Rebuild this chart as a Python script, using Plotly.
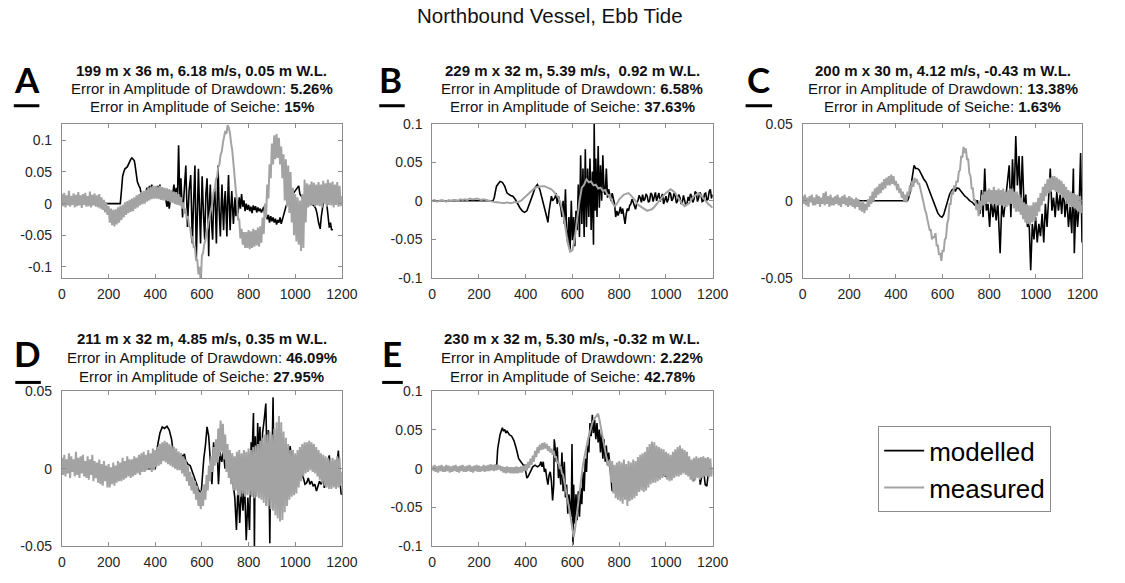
import plotly.graph_objects as go

W, H = 1125, 583

# ---------------------------------------------------------------- data (mm)
T5 = list(range(0, 1201, 5))
T10 = list(range(0, 1201, 10))

meas_a_mm = [
    15, -4, 17, -6, 13, -3, 20, -5, 12, -2,
    16, -6, 14, -4, 18, -3, 13, -7, 15, -2,
    17, -5, 12, -4, 19, -6, 14, -3, 16, -5,
    13, -6, 15, -8, 10, -10, 6, -14, 2, -18,
    -4, -30, -8, -34, -10, -36, -9, -33, -6, -30,
    -4, -26, -2, -22, 2, -18, 4, -15, 6, -13,
    8, -12, 10, -8, 13, -6, 15, -3, 18, -1,
    20, 0, 22, 3, 25, 5, 27, 7, 28, 8,
    28, 8, 27, 7, 28, 6, 26, 5, 25, 5,
    24, 4, 23, 2, 21, 1, 19, -1, 18, -2,
    15, -3, 10, -8, 2, -16, -8, -24, -20, -36,
    -38, -55, -52, -70, -68, -90, -88, -112, -100, -125,
    -82, -78, -64, -58, -45, -38, -26, -18, -6, 2,
    18, 22, 38, 42, 58, 62, 77, 82, 96, 104,
    115, 110, 124, 120, 112, 96, 84, 64, 48, 22,
    5, -25, -25, -55, -40, -65, -45, -70, -45, -70,
    -42, -72, -44, -70, -40, -68, -42, -66, -38, -68,
    -36, -62, -22, -48, 0, -22, 30, 8, 62, 40,
    95, 62, 108, 70, 110, 72, 104, 62, 90, 40,
    78, 5, 70, -5, 60, -15, 50, -30, 25, -50,
    15, -60, 10, -65, 5, -75, 15, -70, 38, -30,
    32, -6, 30, -4, 35, -2, 33, -5, 30, -3,
    34, -4, 30, -6, 36, 0, 32, -5, 38, -2,
    33, -3, 35, -6, 30, -2, 34, -5, 28, -4,
    12,
]

model_a_mm = [
    (0, 0), (250, 0), (255, 20), (260, 43), (265, 50), (270, 55), (280, 58), (285, 63),
    (290, 66), (295, 70), (300, 72), (305, 70), (310, 68), (313, 62), (316, 53), (320, 42),
    (323, 35), (330, 28), (335, 25), (341, 12), (345, 8), (350, 12), (355, 5), (360, 20),
    (365, 25), (370, 18), (375, 28), (380, 22), (385, 30), (390, 24), (395, 18), (400, 26),
    (405, 20), (410, 28), (415, 22), (420, 30), (425, 18), (430, 25), (435, 15), (440, 20),
    (445, 5), (450, -5), (455, 5), (460, -8), (465, 8), (470, 20), (475, 15), (480, 30),
    (485, 10), (490, 25), (495, 5), (500, 92), (505, 10), (510, 40), (517, -22), (524, 30),
    (531, 60), (538, -37), (545, 20), (552, 45), (559, -63), (565, 10), (570, 60), (576, -88),
    (580, 0), (585, 55), (594, -63), (598, 10), (601, 43), (607, -20), (612, -57), (617, 15),
    (622, 40), (626, -10), (629, -83), (633, 5), (636, 30), (641, -30), (646, -57), (650, 0),
    (655, 25), (659, -20), (662, -63), (666, 10), (669, 60), (674, -10), (679, -52), (683, 0),
    (686, 30), (690, -15), (693, -42), (697, 5), (700, 20), (704, -20), (707, -52), (710, 0),
    (714, 45), (718, -10), (721, -42), (725, 0), (728, 20), (732, -10), (735, -32), (740, 0),
    (742, 10), (746, -20), (750, 5), (755, -15), (760, 10), (765, -8), (770, 15), (775, -5),
    (780, 5), (785, -12), (790, 0), (795, -10), (800, -2), (805, -12), (810, -5), (815, -15),
    (820, -3), (825, -10), (830, -4), (835, -14), (840, -6), (845, -12), (850, -8), (855, -14),
    (860, -10), (865, -5), (870, -20), (875, -15), (880, -25), (885, -18), (890, -30), (895, -20),
    (900, -28), (905, -22), (910, -30), (915, -24), (920, -33), (925, -26), (930, -30), (935, -22),
    (940, -32), (945, -25), (950, -15), (960, -5), (970, 5), (980, 10), (990, 15), (1000, 20),
    (1010, 25), (1015, 28), (1020, 15), (1030, 10), (1040, 8), (1050, 5), (1060, 2), (1070, 0),
    (1080, -3), (1088, -8), (1093, -15), (1100, -30), (1107, -40), (1112, -20), (1118, 0),
    (1123, 8), (1128, 12), (1133, 5), (1138, -10), (1142, -25), (1146, -38), (1151, -30),
    (1156, -42), (1160, -40),
]

meas_b_mm = [
    0, 1, -1, 0, 1, 0, -1, 1, 0, 1,
    1, 0, 2, 1, 2, 1, 3, 2, 2, 3,
    2, 1, 2, 1, 0, -1, -1, -2, -2, -3,
    -3, -3, -2, -3, -3, -2, -2, -1, 0, 3,
    6, 9, 12, 14, 17, 18, 19, 19, 19, 18,
    17, 15, 12, 8, 4, -4, -17, -35, -55, -66,
    -64, -48, -22, 0, 17, 21, 28, 24, 25, 20,
    21, 16, 17, 13, 14, 8, 7, -2, -7, -4,
    2, 5, 8, 9, 10, 7, 4, 0, -5, -7,
    -9, -11, -13, -12, -11, -8, -4, 0, 4, 7,
    10, 13, 15, 13, 10, 5, 0, -4, -7, -5,
    -3, 2, 6, 8, 10, 7, 4, 0, -4, -7,
    -9,
]

model_b_mm = [
    (0, 0), (260, 0), (265, 4), (275, 19), (290, 25), (300, 24), (310, 19), (320, 10),
    (335, 7), (345, 6), (355, 2), (365, -4), (375, -9), (385, -13), (395, -15), (405, -13),
    (410, -9), (420, -2), (430, 8), (440, 17), (450, 21), (460, 15), (470, 4), (480, -9),
    (490, -21), (495, -28), (500, -13), (510, 6), (515, 0), (525, 4), (530, 10), (535, -4),
    (540, 6), (550, -9), (555, -21), (560, 0), (565, -30), (570, 15), (575, -38), (580, -55),
    (585, -21), (590, -63), (595, 0), (600, -51), (605, -21), (610, -59), (615, -13), (620, -38),
    (625, 21), (630, -47), (635, 59), (640, -30), (645, 42), (650, -47), (655, 67), (660, -34),
    (665, 42), (670, -21), (675, 55), (680, -38), (685, 38), (690, -57), (693, 100), (697, -13),
    (700, 55), (705, -21), (710, 71), (715, -9), (720, 46), (725, 0), (730, 59), (735, 12),
    (740, 8), (745, 42), (750, 4), (755, 15), (760, 6), (765, 0), (770, 10), (775, 4),
    (780, -4), (785, -21), (790, -13), (795, -19), (800, -15), (805, -8), (810, -17), (815, -10),
    (820, -21), (825, -30), (830, -17), (835, -10), (840, -13), (845, -6), (850, -4), (855, 2),
    (860, -2), (865, -8), (870, -11), (875, -3), (880, 0), (885, 7), (890, 4), (895, -2),
    (900, 8), (905, 0), (910, 2), (915, 9), (920, 6), (925, -2), (930, 0), (935, 10),
    (940, 8), (945, -1), (950, 4), (955, 11), (960, 0), (965, 5), (970, 10), (975, -1),
    (980, 4), (985, 9), (990, -4), (995, 3), (1000, 6), (1005, -2), (1010, 2), (1015, 11),
    (1020, 9), (1025, 0), (1030, 3), (1035, 10), (1040, 6), (1045, -3), (1050, 0), (1055, 8),
    (1060, 4), (1065, -4), (1070, -2), (1075, 7), (1080, 2), (1085, -6), (1090, -4), (1095, 5),
    (1100, 0), (1105, 9), (1110, 6), (1115, -2), (1120, 2), (1125, 12), (1130, 10), (1135, -1),
    (1140, 4), (1145, 11), (1150, 8), (1155, -1), (1160, 0), (1165, 9), (1170, 10), (1175, 1),
    (1180, 2), (1185, 12), (1190, 15), (1195, 3), (1200, 8),
]

meas_c_mm = [
    3, -2, 4, -3, 2, -4, 3, -1, 4, -3,
    2, -3, 4, -2, 3, -4, 2, -2, 5, -3,
    6, -2, 3, -4, 4, -3, 2, -3, 3, -2,
    4, -3, 2, -4, 3, -2, 4, -3, 2, -4,
    3, -3, 2, -4, 1, -5, 2, -4, 1, -6,
    -1, -7, 0, -8, -2, -6, 1, -4, 3, -2,
    6, 0, 8, 2, 9, 4, 11, 5, 12, 7,
    14, 8, 15, 10, 16, 10, 17, 11, 16, 10,
    13, 7, 11, 5, 8, 2, 6, 0, 4, -1,
    6, 3, 10, 6, 13, 9, 15, 12, 14, 11,
    11, 8, 5, 2, -2, -6, -8, -12, -15, -19,
    -19, -25, -23, -24, -21, -29, -29, -35, -34, -39,
    -32, -33, -25, -24, -15, -12, -2, -2, 6, 4,
    10, 8, 13, 12, 19, 20, 29, 28, 35, 31,
    34, 27, 27, 18, 16, 8, 8, 0, 1, -6,
    -2, -10, 0, -6, 4, -3, 6, -2, 7, -1,
    8, -2, 7, -3, 9, -2, 7, -3, 8, -3,
    7, -3, 8, -4, 6, -4, 7, -3, 8, -2,
    8, -5, 6, -7, 6, -7, 4, -9, 2, -12,
    -1, -14, -2, -15, -3, -16, -3, -14, -1, -13,
    -1, -10, 2, -7, 5, -3, 9, 0, 11, 3,
    14, 5, 15, 6, 16, 7, 16, 6, 15, 5,
    14, 4, 13, 2, 11, 1, 9, -2, 7, -4,
    6, -4, 5, -5, 4, -6, 4, -7, 3, -8,
    -3,
]

model_c_mm = [
    (0, 0), (450, 0), (455, 2), (460, 5), (465, 10), (470, 15), (475, 19), (478, 23),
    (485, 21), (492, 21), (500, 20), (505, 18), (510, 17), (520, 14), (530, 12), (540, 8),
    (550, 4), (560, 0), (570, -4), (580, -8), (590, -10), (598, -10.6), (605, -9), (610, -6),
    (620, -2), (630, 4), (640, 7), (650, 8), (655, 6), (661, 8.3), (670, 8), (680, 6),
    (690, 4), (696, 3), (705, 2), (717, 0), (728, -1), (739, -3), (745, 0), (750, 0),
    (760, -8.5), (767, 7), (774, -10.6), (781, 21), (788, -6.4), (795, -2), (802, -17), (809, 2),
    (816, -10.6), (823, -2), (830, -12.7), (837, 0), (847, -34), (854, -2), (862, -10.6), (872, 4),
    (879, 10), (886, 23), (893, -10.6), (900, 27), (907, 0), (914, 42), (921, 10), (928, 29),
    (935, -4), (942, 29), (950, -6.4), (957, 4), (964, -17), (971, -12.7), (978, -45), (985, -15),
    (992, -25), (999, -10.6), (1006, -27), (1013, -15), (1020, -23), (1027, -8.5), (1034, -27),
    (1041, -2), (1048, -17), (1055, 2), (1062, 21), (1069, -6.4), (1076, 2), (1083, -10.6),
    (1090, 6), (1097, -6.4), (1104, 4), (1111, -8.5), (1118, 10), (1125, -10.6), (1133, 2),
    (1140, -17), (1147, -4), (1154, -21), (1161, 21), (1165, -34), (1172, 0), (1179, -17),
    (1186, -2), (1192, 31), (1198, -27), (1200, -10),
]

meas_d_mm = [
    7, -4, 9, -5, 6, -3, 10, -6, 8, -2,
    6, -5, 11, -4, 7, -6, 8, -3, 9, -5,
    5, -6, 8, -7, 6, -4, 9, -8, 5, -6,
    4, -9, 6, -10, 3, -11, 5, -8, 2, -12,
    3, -12, 1, -10, 4, -11, 2, -9, 5, -8,
    4, -8, 7, -7, 5, -6, 8, -5, 6, -6,
    6, -5, 8, -4, 7, -3, 9, -4, 10, -2,
    11, -2, 9, -1, 12, 0, 10, -2, 13, -1,
    12, 1, 14, 2, 16, 3, 17, 5, 18, 4,
    17, 3, 16, 2, 15, 1, 14, 0, 13, -1,
    11, -1, 10, -3, 8, -5, 6, -8, 2, -11,
    -2, -14, -5, -16, -8, -20, -11, -24, -15, -26,
    -14, -24, -10, -20, -4, -14, 2, -8, 8, -2,
    14, 2, 19, 4, 26, 8, 31, 11, 29, 6,
    22, -2, 16, -6, 12, -10, 10, -14, 8, -14,
    11, -17, 12, -18, 10, -16, 12, -18, 11, -17,
    13, -17, 12, -18, 14, -19, 15, -18, 16, -19,
    18, -20, 20, -22, 22, -24, 22, -24, 24, -26,
    22, -27, 26, -30, 30, -32, 34, -34, 30, -33,
    24, -28, 20, -24, 16, -20, 12, -18, 12, -17,
    10, -16, 12, -12, 14, -8, 16, -5, 17, -3,
    17, -2, 18, -1, 17, -2, 16, -3, 14, -5,
    12, -7, 10, -9, 9, -11, 8, -12, 7, -13,
    6, -13, 7, -12, 6, -13, 8, -12, 7, -11,
    -2,
]

model_d_mm = [
    (0, 0), (400, 0), (405, 7.5), (410, 15), (420, 23), (430, 27), (440, 26), (450, 27.4),
    (460, 25), (470, 19), (475, 13), (480, 8.6), (485, 2.3), (490, 1), (500, 5), (510, 9.6),
    (520, 7.5), (525, 9.6), (530, 5.4), (540, 3), (550, 2), (560, -2), (570, -6), (580, -10),
    (587, -14), (597, -15.5), (601, -6), (608, 6.5), (615, 15), (622, 27), (629, 21), (636, 2.3),
    (643, -10), (650, 17), (657, 6.5), (664, 17), (671, -10), (678, 10.7), (685, 4.4), (692, 10.7),
    (699, 0), (706, 12.8), (713, 0), (720, 6.5), (727, -6), (734, -10), (741, -18.6), (748, -39.5),
    (755, -10), (762, -35), (769, -12.3), (776, -27), (783, -10), (790, -46), (797, -18.6),
    (804, -39.5), (811, 17), (815, 8.6), (821, 36), (825, -50), (829, 21), (835, -10), (839, 29.5),
    (844, 10.7), (849, 27), (853, -10), (860, 23), (867, 31.6), (874, 42), (881, -10), (885, 25),
    (891, -48), (895, 10.7), (899, -6), (905, 46), (909, -10), (916, 10.7), (923, -2), (930, 6.5),
    (937, 0), (951, -6), (965, -2), (978, 14.6), (986, 4.4), (993, -10), (1007, -4), (1021, 0),
    (1035, -6), (1042, -10), (1049, -9), (1056, -6), (1063, -10), (1070, -8), (1077, -11),
    (1084, -10), (1091, -14.4), (1098, -10), (1104, -8), (1111, -10), (1118, -6), (1125, -12.3),
    (1132, -4), (1139, 4.4), (1146, 8.6), (1153, -6), (1160, -2), (1167, -10), (1174, -4),
    (1181, 6.5), (1185, 11.7), (1191, -6), (1197, -16.5), (1200, -16),
]

meas_e_mm = [
    4, -3, 5, -4, 3, -5, 4, -3, 5, -4,
    3, -4, 5, -3, 4, -5, 3, -4, 4, -3,
    5, -4, 3, -5, 4, -3, 5, -4, 3, -4,
    4, -3, 5, -4, 3, -5, 4, -3, 5, -4,
    4, -4, 3, -3, 5, -4, 4, -3, 5, -3,
    6, -2, 5, -3, 6, -2, 5, -1, 4, -3,
    3, -5, 2, -6, 3, -5, 2, -6, 2, -6,
    2, -6, 3, -6, 2, -5, 3, -5, 4, -3,
    6, -2, 9, 1, 13, 5, 17, 9, 23, 15,
    28, 20, 31, 24, 33, 25, 34, 26, 32, 23,
    29, 21, 26, 18, 23, 15, 15, 7, 9, 1,
    2, -6, -8, -16, -22, -30, -42, -50, -58, -68,
    -78, -88, -80, -67, -54, -43, -33, -18, -5, 5,
    13, 22, 30, 36, 42, 49, 55, 59, 63, 65,
    67, 70, 71, 64, 55, 46, 38, 30, 21, 15,
    9, 3, 12, -18, 10, -32, 5, -38, 8, -40,
    10, -42, 8, -45, 12, -40, 6, -48, 10, -42,
    8, -40, 12, -38, 10, -35, 15, -30, 18, -28,
    20, -30, 22, -28, 28, -24, 32, -20, 35, -18,
    34, -18, 30, -16, 28, -14, 26, -12, 25, -10,
    22, -14, 20, -16, 18, -15, 22, -12, 25, -10,
    28, -10, 30, -8, 26, -6, 24, -8, 22, -10,
    16, -14, 12, -16, 14, -15, 16, -12, 14, -14,
    15, -12, 16, -10, 14, -10, 15, -11, 13, -10,
    2,
]

model_e_mm = [
    (0, 0), (275, 0), (280, 25.5), (285, 38), (290, 44), (300, 52.7), (305, 48.5), (310, 50.6),
    (315, 46), (320, 48.5), (330, 44), (340, 42), (350, 36), (360, 25.5), (365, 17), (370, 13),
    (380, 8.8), (390, 4.6), (395, 4.6), (400, -3.8), (405, -12), (410, -10), (420, -4), (430, 2.5),
    (440, 4.6), (450, 2.5), (460, 4.6), (465, 9), (470, 2.5), (475, 9), (480, -4), (485, 0),
    (490, -12), (495, -20.5), (500, -8), (505, -4), (510, -16), (515, -41), (520, -20.5), (522, 38),
    (525, 30), (530, 9), (535, 27.6), (540, -12), (545, 4.6), (550, -20.5), (555, 21), (560, -29),
    (565, 9), (570, -37), (575, -20.5), (580, -58), (585, -33), (590, -45.6), (595, -62), (598, 32),
    (600, -87), (602, -98), (605, -20.5), (610, -71), (615, -33), (620, -66.5), (625, -29),
    (630, -62), (635, -25), (640, -45.6), (645, -4), (650, -29), (655, 13), (660, -4), (665, 30),
    (670, 21), (675, 59), (680, 42), (685, 69.5), (690, 46), (695, 63), (700, 38), (705, 59),
    (710, 34), (715, 50.6), (720, 21), (725, 46), (730, 13), (735, 38), (740, 9), (745, 30),
    (750, 4.6), (755, 21), (760, 0), (765, -20.5), (770, -29), (780, -20), (800, -15), (820, -12),
    (840, -10), (860, -8), (880, -6), (900, -5), (920, -4), (940, -3.8), (950, -8), (960, -6),
    (970, -10), (980, -4), (990, -8), (1000, -10), (1010, -6), (1020, -2), (1040, 0), (1060, 2),
    (1080, 0), (1100, -5), (1110, -10), (1118, -16), (1125, -8), (1133, 6.7), (1140, 4.6),
    (1147, -20.5), (1154, -8), (1161, 0), (1168, -20.5), (1175, -22.6), (1182, -4), (1186, 6.7),
]

panel_letters = ["A", "B", "C", "D", "E"]
vessel_lines = [
    "199 m x 36 m, 6.18 m/s, 0.05 m W.L.",
    "229 m x 32 m, 5.39 m/s,  0.92 m W.L.",
    "200 m x 30 m, 4.12 m/s, -0.43 m W.L.",
    "211 m x 32 m, 4.85 m/s, 0.35 m W.L.",
    "230 m x 32 m, 5.30 m/s, -0.32 m W.L.",
]
drawdown_err = ["5.26%", "6.58%", "13.38%", "46.09%", "2.22%"]
seiche_err = ["15%", "37.63%", "1.63%", "27.95%", "42.78%"]

x_ticks = [0, 200, 400, 600, 800, 1000, 1200]
y_ticks_wide = [-0.1, -0.05, 0, 0.05, 0.1]
y_labels_wide = ["-0.1", "-0.05", "0", "0.05", "0.1"]
y_ticks_narrow = [-0.05, 0, 0.05]
y_labels_narrow = ["-0.05", "0", "0.05"]
y_ranges = [(-0.1174, 0.1262), (-0.1, 0.1), (-0.05, 0.05), (-0.05, 0.05), (-0.1, 0.1)]

# ---------------------------------------------------------------- layout geometry (px)
# axes boxes: left, right, top, bottom
boxes = [
    (59, 344, 119, 277.5),
    (436, 721.5, 119, 277.5),
    (813, 1098, 119, 277.5),
    (59, 344, 394, 553.5),
    (436, 721.5, 394, 553.5),
]
title_rows = [(64.5, 83, 101.5)] * 3 + [(340, 359.5, 378.5)] * 2
letter_pos = [(23, 73), (394, 73), (768, 73), (24, 354.5), (395.5, 354.5)]
underline_pos = [(10, 36, 100.5), (382, 408, 100.5), (755, 782, 100.5),
                 (11.5, 37.5, 385), (385, 406, 385)]

BLACK = "#000000"
GREY = "#a3a3a3"
AX = "#8c8c8c"
FONT = "Liberation Sans, Arial, sans-serif"


def px(x):
    return x / W


def py(y):
    return 1 - y / H


def to_m(vals):
    return [v / 1000.0 for v in vals]


measured = [
    (T5, meas_a_mm), (T10, meas_b_mm), (T5, meas_c_mm), (T5, meas_d_mm), (T5, meas_e_mm)
]
modelled = [model_a_mm, model_b_mm, model_c_mm, model_d_mm, model_e_mm]

fig = go.Figure()
layout = dict(
    width=W, height=H,
    margin=dict(l=0, r=0, t=0, b=0),
    paper_bgcolor="white", plot_bgcolor="white",
    font=dict(family=FONT, color="#262626"),
    showlegend=True,
)
annotations = []
shapes = []

for i in range(5):
    sfx = "" if i == 0 else str(i + 1)
    xa, ya = "x" + sfx, "y" + sfx
    l, r, t, b = boxes[i]
    wide = abs(y_ranges[i][1]) > 0.07
    layout["xaxis" + sfx] = dict(
        domain=[px(l), px(r)], range=[0, 1200], anchor=ya,
        tickvals=x_ticks, ticktext=[str(v) for v in x_ticks],
        ticks="inside", ticklen=4, tickcolor=AX, showgrid=False, zeroline=False,
        showline=True, linecolor=AX, linewidth=1, mirror="ticks",
        ticklabelstandoff=3,
        tickfont=dict(size=14, color="#262626"), fixedrange=True,
    )
    layout["yaxis" + sfx] = dict(
        domain=[py(b), py(t)], range=list(y_ranges[i]), anchor=xa,
        tickvals=y_ticks_wide if wide else y_ticks_narrow,
        ticktext=y_labels_wide if wide else y_labels_narrow,
        ticks="inside", ticklen=4, tickcolor=AX, showgrid=False, zeroline=False,
        showline=True, linecolor=AX, linewidth=1, mirror="ticks",
        ticklabelstandoff=6,
        tickfont=dict(size=14, color="#262626"), fixedrange=True,
    )

    mt = [p[0] for p in modelled[i]]
    mv = to_m([p[1] for p in modelled[i]])
    fig.add_trace(go.Scatter(
        x=mt, y=mv, mode="lines", name="modelled", legendgroup="modelled",
        showlegend=(i == 0), line=dict(color=BLACK, width=1.6),
        xaxis=xa, yaxis=ya,
    ))
    tt, vv = measured[i]
    fig.add_trace(go.Scatter(
        x=tt, y=to_m(vv), mode="lines", name="measured", legendgroup="measured",
        showlegend=(i == 0), line=dict(color=GREY, width=2),
        xaxis=xa, yaxis=ya,
    ))

    cx = (l + r) / 2
    y1, y2, y3 = title_rows[i]
    for txt, yy in (
        ("<b>" + vessel_lines[i] + "</b>", y1),
        ("Error in Amplitude of Drawdown: <b>" + drawdown_err[i] + "</b>", y2),
        ("Error in Amplitude of Seiche: <b>" + seiche_err[i] + "</b>", y3),
    ):
        annotations.append(dict(
            text=txt, x=px(cx), y=py(yy), xref="paper", yref="paper",
            xanchor="center", yanchor="middle", showarrow=False,
            font=dict(size=15, color="#111111", family=FONT),
        ))

    lx, ly = letter_pos[i]
    annotations.append(dict(
        text="<b>" + panel_letters[i] + "</b>", x=px(lx), y=py(ly),
        xref="paper", yref="paper", xanchor="center", yanchor="middle",
        showarrow=False, font=dict(size=35, color="#000000", family="Lato, Open Sans, sans-serif"),
    ))
    ux0, ux1, uy = underline_pos[i]
    shapes.append(dict(
        type="line", xref="paper", yref="paper",
        x0=px(ux0), x1=px(ux1), y0=py(uy), y1=py(uy),
        line=dict(color="#000000", width=3),
    ))

annotations.append(dict(
    text="Northbound Vessel, Ebb Tide", x=px(556), y=py(7.5),
    xref="paper", yref="paper", xanchor="center", yanchor="middle",
    showarrow=False, font=dict(size=20.5, color="#111111", family=FONT),
))

layout["annotations"] = annotations
layout["shapes"] = shapes
layout["legend"] = dict(
    x=px(890), y=py(430), xanchor="left", yanchor="top",
    bordercolor=AX, borderwidth=1, bgcolor="white",
    font=dict(size=26, color="#000000", family=FONT),
    tracegroupgap=0, itemwidth=40,
)
fig.update_layout(**layout)
fig.write_html("out.html")
